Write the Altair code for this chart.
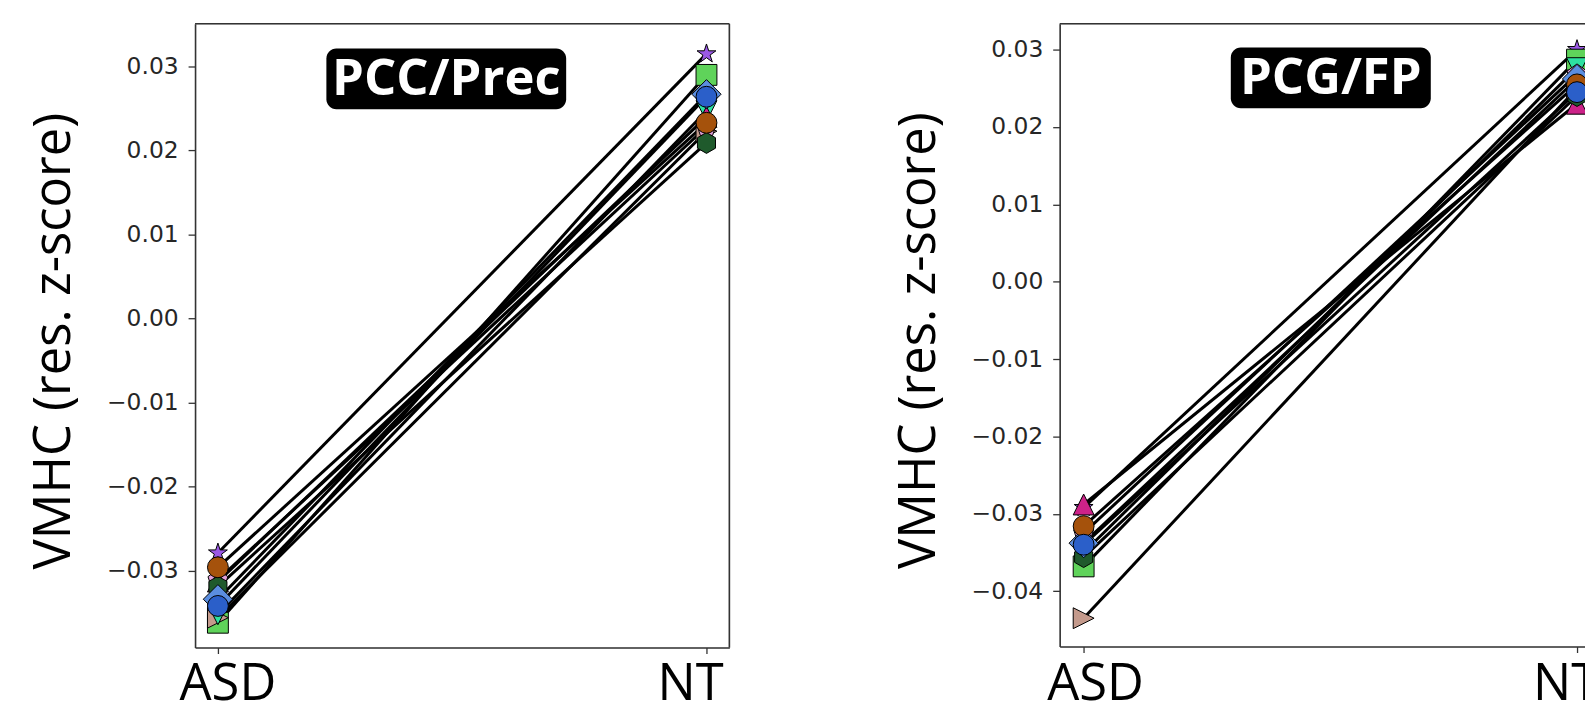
import altair as alt
import pandas as pd

# ---------------- data ----------------
groups = ["ASD", "NT"]
group_pos = [0, 1]
subjects = ["S1", "S2", "S3", "S4", "S5", "S6", "S7", "S8", "S9", "S10"]

STAR = ("M0,-0.95L0.213,-0.294L0.904,-0.294L0.345,0.112L0.559,0.769L0,0.363"
        "L-0.559,0.769L-0.345,0.112L-0.904,-0.294L-0.213,-0.294Z")
SQUARE = "M-1,-1L1,-1L1,1L-1,1Z"
HEXAGON = "M0,-1L0.866,-0.5L0.866,0.5L0,1L-0.866,0.5L-0.866,-0.5Z"
DIAMOND = "M0,-1.4L1.4,0L0,1.4L-1.4,0Z"
TRI_DOWN = "M-1,-1L1,-1L0,1Z"
TRI_RIGHT = "M1,0L-1,-1L-1,1Z"
TRI_UP = "M0,-1L1,1L-1,1Z"
PENTAGON = "M0,-1L0.951,-0.309L0.588,0.809L-0.588,0.809L-0.951,-0.309Z"

# drawing order: later rows are drawn on top
marker_shapes = [STAR, SQUARE, TRI_RIGHT, TRI_DOWN, PENTAGON, TRI_UP,
                 HEXAGON, DIAMOND, "circle", "circle"]
marker_colors = ["#9b59e6", "#5fd35a", "#c49a8c", "#2de0a0", "#e0a0d8",
                 "#cc2288", "#1f5a2c", "#5b8ee0", "#a5520c", "#2b5fc9"]

pcc_asd = [-0.0279, -0.0362, -0.0356, -0.0352, -0.0311, -0.0313,
           -0.0319, -0.0334, -0.0296, -0.0342]
pcc_nt = [0.0315, 0.0290, 0.0223, 0.0247, 0.0228, 0.0240,
          0.0209, 0.0267, 0.0233, 0.0264]

pcg_asd = [-0.0292, -0.0368, -0.0435, -0.0350, -0.0325, -0.0288,
           -0.0356, -0.0338, -0.0316, -0.0340]
pcg_nt = [0.0300, 0.0287, 0.0250, 0.0276, 0.0268, 0.0230,
          0.0240, 0.0262, 0.0255, 0.0245]

pcc_ticks = [-0.03, -0.02, -0.01, 0.00, 0.01, 0.02, 0.03]
pcg_ticks = [-0.04, -0.03, -0.02, -0.01, 0.00, 0.01, 0.02, 0.03]

Y_TITLE = "VMHC (res. z-score)"


def make_df(asd, nt):
    rows = []
    for i, s in enumerate(subjects):
        rows.append({"subject": s, "order": i, "xpos": group_pos[0],
                     "group": groups[0], "value": asd[i]})
        rows.append({"subject": s, "order": i, "xpos": group_pos[1],
                     "group": groups[1], "value": nt[i]})
    return pd.DataFrame(rows)


def panel(label, asd, nt, yticks, ydom, xdom, width, height, box,
          right_border, asd_dx, nt_dx):
    df = make_df(asd, nt)
    one = pd.DataFrame({"k": [0]})
    lab_df = pd.DataFrame({"group": groups, "xpos": group_pos})

    x = alt.X("xpos:Q",
              scale=alt.Scale(domain=xdom, nice=False, zero=False),
              axis=alt.Axis(values=group_pos, labels=False, title=None,
                            grid=False, tickSize=6, tickWidth=1.3,
                            tickColor="#333", domainColor="#333",
                            domainWidth=1.6))
    y = alt.Y("value:Q",
              scale=alt.Scale(domain=ydom, nice=False, zero=False),
              axis=alt.Axis(values=yticks, format=".2f", title=Y_TITLE,
                            titleFont="Open Sans", titleFontSize=51,
                            titleFontWeight="normal", titleColor="black",
                            titlePadding=26, titleY=height / 2 + 5,
                            labelFont="DejaVu Sans", labelFontSize=23.5,
                            labelColor="#262626", labelPadding=10,
                            tickSize=7, tickWidth=1.3, tickColor="#333",
                            domainColor="#333", domainWidth=1.6,
                            grid=False))

    lines = alt.Chart(df).mark_line(color="black", strokeWidth=3).encode(
        x=x, y=y, detail="subject:N", order="xpos:Q")

    pts = alt.Chart(df).mark_point(
        filled=True, size=440, stroke="black", strokeWidth=1, opacity=1
    ).encode(
        x=x, y=y,
        shape=alt.Shape("subject:N",
                        scale=alt.Scale(domain=subjects, range=marker_shapes),
                        legend=None),
        fill=alt.Fill("subject:N",
                      scale=alt.Scale(domain=subjects, range=marker_colors),
                      legend=None),
        order="order:Q")

    bx0, bx1, by0, by1 = box
    rect = alt.Chart(one).mark_rect(color="black", cornerRadius=10).encode(
        x=alt.value(bx0), x2=alt.value(bx1),
        y=alt.value(by0), y2=alt.value(by1))
    txt = alt.Chart(one).mark_text(
        font="Open Sans", fontSize=51, fontWeight="bold", color="white",
        align="center", baseline="middle", dy=1
    ).encode(x=alt.value((bx0 + bx1) / 2), y=alt.value((by0 + by1) / 2),
             text=alt.value(label))

    top_rule = alt.Chart(one).mark_rule(color="#333", strokeWidth=1.6).encode(
        x=alt.value(0), x2=alt.value(width), y=alt.value(0))
    layers = [lines, pts, rect, txt, top_rule]
    if right_border:
        layers.append(alt.Chart(one).mark_rule(color="#333", strokeWidth=1.6)
                      .encode(x=alt.value(width), y=alt.value(0),
                              y2=alt.value(height)))

    for g, dx in zip(groups, [asd_dx, nt_dx]):
        layers.append(
            alt.Chart(lab_df).transform_filter(alt.datum.group == g)
            .mark_text(font="Open Sans", fontSize=51, color="black",
                       align="center", baseline="alphabetic", dx=dx)
            .encode(x=alt.X("xpos:Q"), y=alt.value(680), text="group:N"))

    return alt.layer(*layers).properties(width=width, height=height)


left = panel("PCC/Prec", pcc_asd, pcc_nt, pcc_ticks,
             [-0.039153, 0.035092], [-0.0468, 1.0468], 537, 627,
             (132, 373, 25, 86), True, 10, -16)
right = panel("PCG/FP", pcg_asd, pcg_nt, pcg_ticks,
              [-0.047163, 0.033344], [-0.0486, 1.0283], 534, 626,
              (172, 373, 24, 85), False, 12, -11)

chart = alt.hconcat(left, right, spacing=332, bounds="flush").properties(
    autosize=alt.AutoSizeParams(type="none"),
    padding={"left": 188, "top": 14, "right": 1397, "bottom": 693}
).configure_view(strokeWidth=0).configure(background="white")

chart.save("out.html", embed_options={"renderer": "svg", "actions": False})
